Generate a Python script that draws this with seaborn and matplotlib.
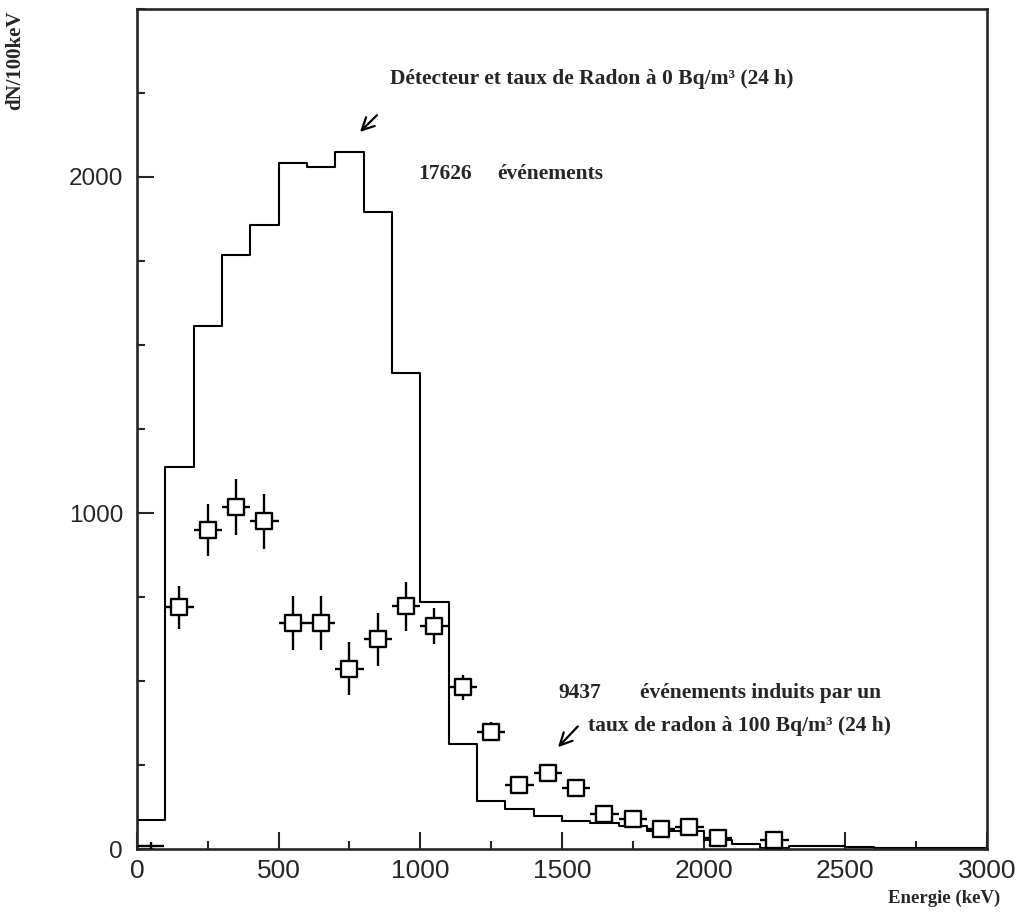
"""
Energy spectrum: detector background vs radon-induced events.
"""

import matplotlib

matplotlib.use("Agg")
import matplotlib.pyplot as plt
import numpy as np
import pandas as pd
import seaborn as sns
from matplotlib.ticker import MultipleLocator

# Background histogram (100 keV bins, 0-3000 keV)
bin_edges = np.arange(0, 3001, 100)
bkg_counts = [85, 1137, 1558, 1767, 1857, 2042, 2030, 2073, 1896, 1418,
              734, 313, 143, 119, 98, 82, 78, 70, 55, 55,
              28, 15, 2, 10, 8, 6, 4, 3, 2, 2]

# Radon-induced points (bin centres, keV)
radon_e = [150, 250, 350, 450, 550, 650, 750, 850, 950, 1050,
           1150, 1250, 1350, 1450, 1550, 1650, 1750, 1850, 1950, 2050, 2250]
radon_n = [719, 949, 1018, 976, 672, 672, 537, 624, 722, 663,
           481, 349, 191, 227, 182, 104, 88, 60, 66, 34, 28]
radon_err = [63, 78, 82, 82, 80, 80, 80, 78, 72, 54,
             37, 28, 22, 24, 20, 15, 14, 12, 12, 10, 9]

# first bin: almost empty, only the error cross shows
low_e = [50]
low_n = [8]
low_err = [12]

sns.set_style("ticks")
plt.rcParams["font.family"] = ["Liberation Sans", "DejaVu Sans"]

fig = plt.figure(figsize=(10.2, 9.15), dpi=100)
ax = fig.add_axes([0.1343, 0.0721, 0.8333, 0.9181])

bkg = pd.DataFrame({"energy": bin_edges[:-1] + 50, "counts": bkg_counts})
sns.histplot(
    data=bkg,
    x="energy",
    weights="counts",
    binwidth=100,
    binrange=(0, 3000),
    element="step",
    fill=False,
    color="black",
    linewidth=1.5,
    ax=ax,
)

ax.errorbar(radon_e, radon_n, yerr=radon_err, xerr=50, fmt="none",
            ecolor="black", elinewidth=1.7, capsize=0, zorder=3)
ax.errorbar(low_e, low_n, yerr=low_err, xerr=45, fmt="none",
            ecolor="black", elinewidth=1.7, capsize=0, zorder=3)
radon = pd.DataFrame({"energy": radon_e, "counts": radon_n})
sns.scatterplot(data=radon, x="energy", y="counts", marker="s", s=130,
                facecolor="white", edgecolor="black", linewidth=1.7,
                zorder=4, ax=ax)

ax.set_xlim(0, 3000)
ax.set_ylim(0, 2500)
ax.xaxis.set_major_locator(MultipleLocator(500))
ax.xaxis.set_minor_locator(MultipleLocator(250))
ax.yaxis.set_major_locator(MultipleLocator(1000))
ax.yaxis.set_minor_locator(MultipleLocator(250))
ax.tick_params(which="both", direction="in", top=False, right=False,
               width=1.5)
ax.tick_params(axis="y", which="major", length=12, pad=10, labelsize=17.5)
ax.tick_params(axis="x", which="major", length=12, pad=7, labelsize=19)
ax.tick_params(which="minor", length=6)
for side in ax.spines.values():
    side.set_linewidth(1.9)
ax.set(xlabel="", ylabel="")

serif = {"family": "Liberation Serif", "weight": "bold"}
arrow = dict(arrowstyle="->", color="black", lw=1.6, mutation_scale=22,
             shrinkA=0, shrinkB=0)

ax.text(893, 2277, "Détecteur et taux de Radon à 0 Bq/m³ (24 h)",
        fontsize=15.5, va="baseline", **serif)
ax.annotate("", xy=(787, 2134), xytext=(847, 2184), arrowprops=arrow)
ax.text(992, 1995, "17626", fontsize=15.5, va="baseline", **serif)
ax.text(1271, 1995, "événements", fontsize=15.5, va="baseline", **serif)

ax.text(1486, 448, "9437", fontsize=15.5, va="baseline", **serif)
ax.text(1775, 448, "événements induits par un", fontsize=15.5,
        va="baseline", **serif)
ax.text(1592, 350, "taux de radon à 100 Bq/m³ (24 h)", fontsize=15.5,
        va="baseline", **serif)
ax.annotate("", xy=(1486, 303), xytext=(1556, 365), arrowprops=arrow)

fig.text(15 / 1020, 1 - 60 / 915, "dN/100keV", rotation=90, fontsize=15,
         ha="center", va="center", **serif)
fig.text(1000 / 1020, 1 - 898 / 915, "Energie (keV)", fontsize=13.5,
         ha="right", va="center", **serif)

fig.savefig("out.png", dpi=100)
